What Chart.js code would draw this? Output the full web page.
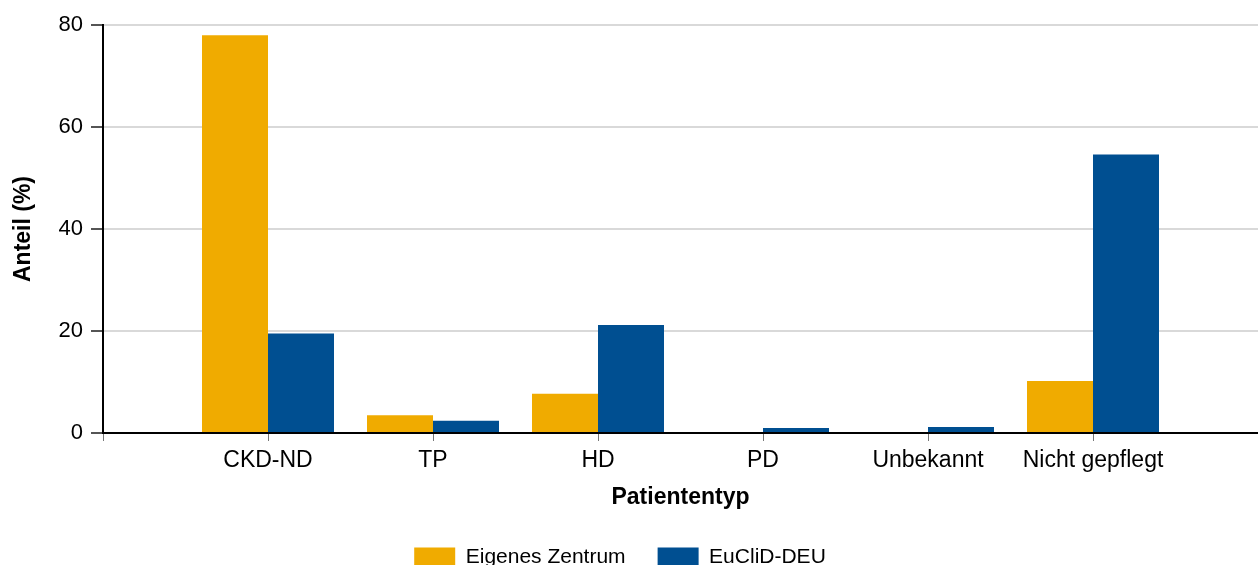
<!DOCTYPE html>
<html>
<head>
<meta charset="utf-8">
<script src="https://cdn.jsdelivr.net/npm/chart.js@4"></script>
<style>
  html, body { margin: 0; padding: 0; background: #fff; overflow: hidden; }
  #wrap { width: 1258px; height: 578px; position: relative; }
</style>
</head>
<body>
<div id="wrap"><canvas id="chart"></canvas></div>
<script>
// leere Plätze links und rechts, wie im Original
const categories = ['', 'CKD-ND', 'TP', 'HD', 'PD', 'Unbekannt', 'Nicht gepflegt', ''];
const eigenesZentrum = [null, 78.0, 3.5, 7.7, 0, 0, 10.2, null];
const euclidDeu = [null, 19.5, 2.4, 21.2, 1.0, 1.2, 54.6, null];
const yTicks = [0, 20, 40, 60, 80];

const FONT = "'Liberation Sans', Arial, sans-serif";

// Legende etwas nach links schieben
const legendShift = {
    id: 'legendShift',
    afterLayout: c => { c.legend.left -= 9; c.legend.right -= 9; }
};

const chart = new Chart(document.getElementById('chart'), {
    type: 'bar',
    data: {
        labels: categories,
        datasets: [
            { label: 'Eigenes Zentrum', data: eigenesZentrum, backgroundColor: '#F0AB00' },
            { label: 'EuCliD-DEU', data: euclidDeu, backgroundColor: '#004F91' }
        ]
    },
    plugins: [legendShift],
    options: {
        responsive: true,
        maintainAspectRatio: false,
        animation: false,
        categoryPercentage: 0.8,
        barPercentage: 1.0,
        layout: { padding: { top: 25, right: 0, left: 0, bottom: 0 } },
        plugins: {
            tooltip: { enabled: false },
            legend: {
                position: 'bottom',
                labels: {
                    color: '#000',
                    font: { family: FONT, size: 21 },
                    boxWidth: 41,
                    boxHeight: 20,
                    padding: 32
                }
            }
        },
        scales: {
            x: {
                offset: false,
                grid: { offset: false, drawOnChartArea: false, tickLength: 8, tickColor: '#777', lineWidth: 1 },
                border: { color: '#000', width: 2 },
                ticks: {
                    color: '#000', font: { family: FONT, size: 23 }, padding: 6,
                    maxRotation: 0, autoSkip: false
                },
                title: {
                    display: true, text: 'Patiententyp', color: '#000',
                    font: { family: FONT, size: 23, weight: 'bold' }, padding: { top: 8, bottom: 4 }
                },
                afterFit: s => { s.height = 82; s.paddingRight = 0; s.paddingLeft = 0; }
            },
            y: {
                min: 0, max: 80,
                afterBuildTicks: s => { s.ticks = yTicks.map(v => ({ value: v })); },
                grid: { color: '#d9d9d9', lineWidth: 2, tickLength: 12, tickColor: '#555' },
                border: { color: '#000', width: 2 },
                ticks: { color: '#000', font: { family: FONT, size: 22 }, padding: 8 },
                title: {
                    display: true, text: 'Anteil (%)', color: '#000',
                    font: { family: FONT, size: 23, weight: 'bold' }, padding: { top: 10, bottom: 0 }
                },
                afterFit: s => { s.width = 103; }
            }
        }
    }
});
</script>
</body>
</html>
